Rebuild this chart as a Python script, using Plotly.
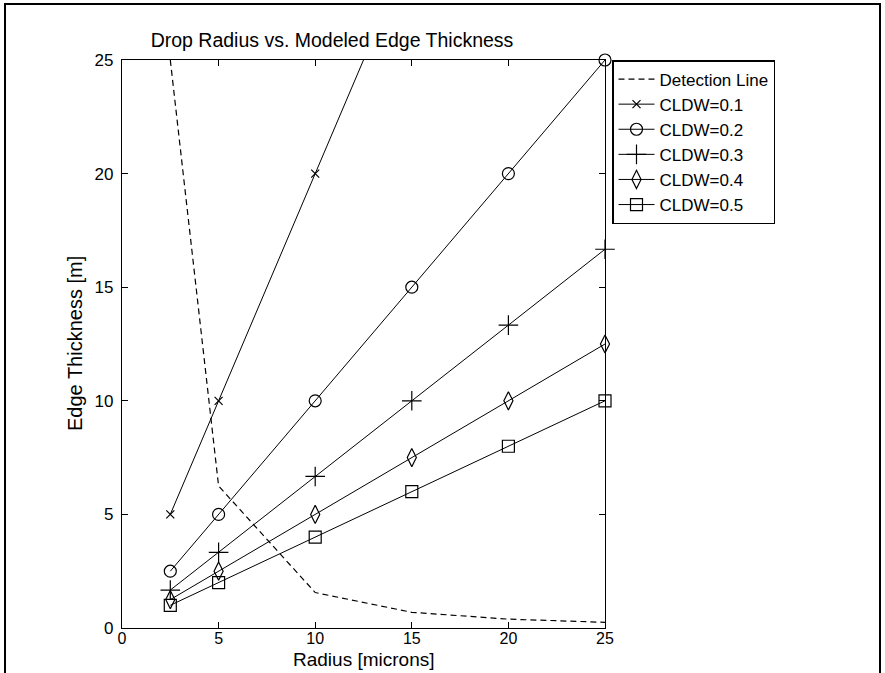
import plotly.graph_objects as go

radius = [2.5, 5, 10, 15, 20, 25]
detection = [25, 6.25, 1.56, 0.69, 0.39, 0.25]
cldw_labels = ["CLDW=0.1", "CLDW=0.2", "CLDW=0.3", "CLDW=0.4", "CLDW=0.5"]
cldw_01 = [5, 10, 20, 30, 40, 50]
cldw_02 = [2.5, 5, 10, 15, 20, 25]
cldw_03 = [1.67, 3.33, 6.67, 10, 13.33, 16.67]
cldw_04 = [1.25, 2.5, 5, 7.5, 10, 12.5]
cldw_05 = [1, 2, 4, 6, 8, 10]
x_ticks = [0, 5, 10, 15, 20, 25]
y_ticks = [0, 5, 10, 15, 20, 25]
x_title = "Radius [microns]"
y_title = "Edge Thickness [m]"

FONT = "Liberation Sans, Arial, sans-serif"
L, R, T, B = 122, 280, 60, 45
W, H = 885, 673
PW, PH = W - L - R, H - T - B

fig = go.Figure()
fig.add_trace(go.Scatter(x=radius, y=detection, mode="lines", name="Detection Line",
                         line=dict(color="black", width=1.2, dash="6px,4px")))

series = [cldw_01, cldw_02, cldw_03, cldw_04, cldw_05]
symbols = ["x-thin-open", "circle-open", "cross-thin-open", "diamond-tall-open", "square-open"]
sizes = [8, 12, 14, 13, 12]
for name, ys, sym, sz in zip(cldw_labels, series, symbols, sizes):
    fig.add_trace(go.Scatter(
        x=radius, y=ys, mode="lines+markers", name=name,
        line=dict(color="black", width=1),
        marker=dict(symbol=sym, size=sz, color="black", line=dict(color="black", width=1.2)),
        cliponaxis=(max(ys) > 25),
    ))

fig.update_layout(
    width=W, height=H,
    margin=dict(l=L, r=R, t=T, b=B, autoexpand=False),
    paper_bgcolor="white", plot_bgcolor="white",
    font=dict(family=FONT, size=17, color="black"),
    title=dict(text="Drop Radius vs. Modeled Edge Thickness", x=332 / W, xanchor="center",
               y=1 - 40 / H, yanchor="middle", font=dict(size=19.5)),
    legend=dict(x=(612 - L) / PW, y=1, xanchor="left", yanchor="top", bordercolor="black", borderwidth=1.5,
                bgcolor="white", font=dict(size=17), tracegroupgap=0, itemwidth=36),
    showlegend=True,
)
axis_common = dict(showline=True, linecolor="black", linewidth=1.3, mirror="ticks", ticks="inside",
                   ticklen=6, tickcolor="black", showgrid=False, zeroline=False,
                   automargin=False)
fig.update_xaxes(range=[0, 25], tickvals=x_ticks, ticklabelstandoff=-4, tickfont=dict(size=16),
                 **axis_common)
fig.update_yaxes(range=[0, 25], tickvals=y_ticks, ticklabelstandoff=4, tickfont=dict(size=17),
                 **axis_common)

fig.add_annotation(text=x_title, xref="paper", yref="paper", x=0.5, y=-(H - 2 - (H - B)) / PH,
                   xanchor="center", yanchor="bottom", showarrow=False, font=dict(size=19),
                   borderpad=0)
fig.add_annotation(text=y_title, xref="paper", yref="paper", x=-(L - 75) / PW, y=0.5,
                   xanchor="center", yanchor="middle", textangle=-90, showarrow=False, font=dict(size=20))

# outer frame
fig.add_shape(type="rect", xref="paper", yref="paper",
              x0=(5 - L) / PW, x1=(880 - L) / PW, y0=-(690 - (H - B)) / PH, y1=(H - B - 4) / PH,
              line=dict(color="black", width=2), layer="below")

fig.write_html("out.html")
